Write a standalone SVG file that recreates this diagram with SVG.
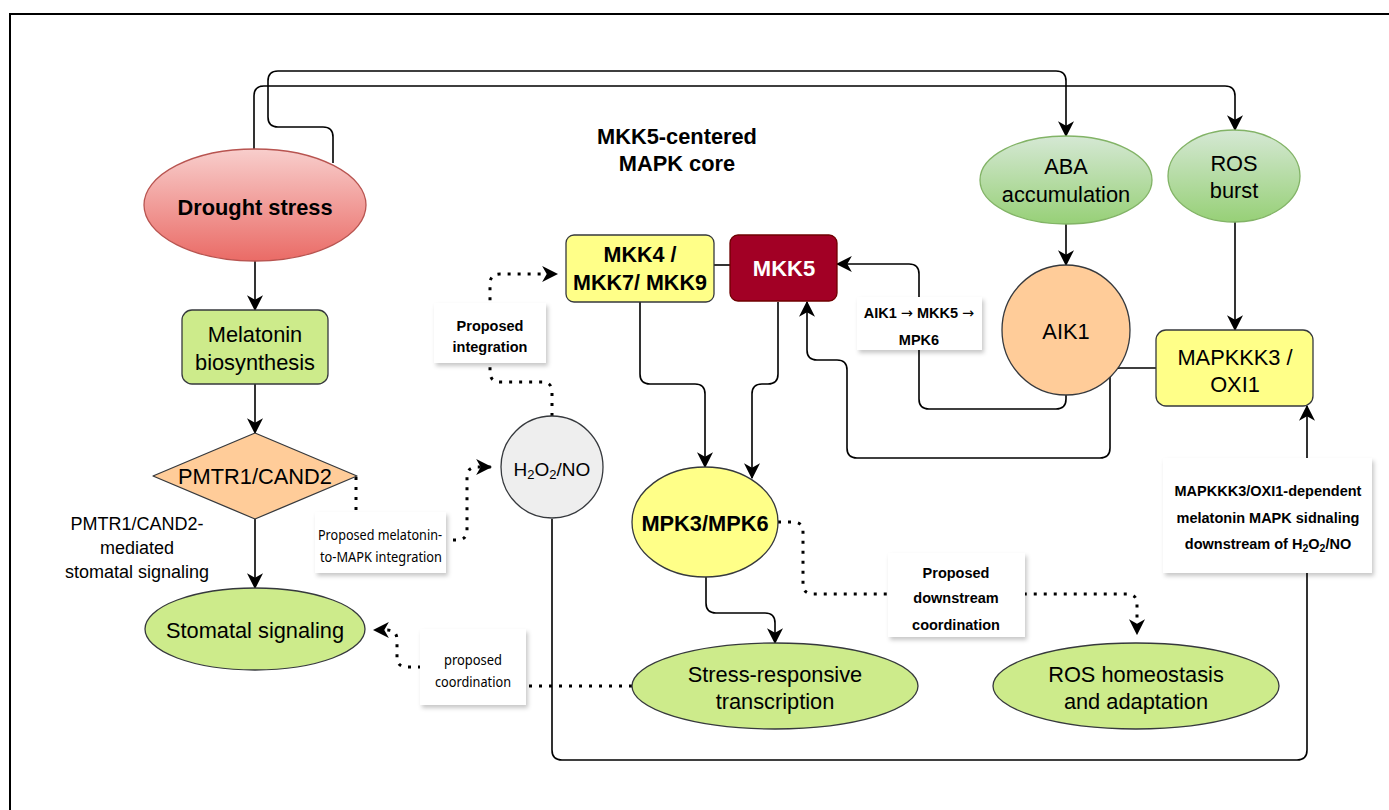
<svg xmlns="http://www.w3.org/2000/svg" width="1389" height="810" viewBox="0 0 1389 810">
<defs>
<linearGradient id="gRed" x1="0" y1="0" x2="0" y2="1"><stop offset="0" stop-color="#f8cecc"/><stop offset="1" stop-color="#ea6b66"/></linearGradient>
<linearGradient id="gGreen" x1="0" y1="0" x2="0" y2="1"><stop offset="0" stop-color="#d5e8d4"/><stop offset="1" stop-color="#97d077"/></linearGradient>
<marker id="arr" markerUnits="userSpaceOnUse" markerWidth="16" markerHeight="16" viewBox="0 0 14 14" refX="13" refY="7" orient="auto"><path d="M0,0 L14,7 L0,14 L4,7 Z" fill="#000"/></marker>
<filter id="sh" x="-10%" y="-10%" width="125%" height="130%"><feDropShadow dx="2" dy="3" stdDeviation="2" flood-color="#000" flood-opacity="0.22"/></filter>
<style>
.n{stroke:#36393d;stroke-width:1.3}
.t{font-family:"Liberation Sans",Arial,sans-serif;font-size:21.8px;fill:#000;text-anchor:middle;dominant-baseline:central}
.b{font-weight:bold}
.lb{fill:#fff;filter:url(#sh)}
.lt{font-family:"Liberation Sans",Arial,sans-serif;font-size:14.5px;font-weight:bold;fill:#000;text-anchor:middle;dominant-baseline:central}
.ar{font-family:"DejaVu Sans",sans-serif;font-weight:normal}
.st{font-family:"Noto Sans","Open Sans",sans-serif;font-size:14px;fill:#000;text-anchor:middle;dominant-baseline:central}
.c{fill:none;stroke:#000;stroke-width:1.6}
.d{fill:none;stroke:#000;stroke-width:3;stroke-dasharray:3 7}
</style>
</defs>
<rect x="10" y="14" width="1400" height="820" fill="#fff" stroke="#000" stroke-width="2"/>

<g id="connectors">
<path class="c" d="M254,149 L254,96 Q254,86 264,86 L1225,86 Q1235,86 1235,96 L1235,130" marker-end="url(#arr)"/>
<path class="c" d="M333,163 L333,137 Q333,127 323,127 L278,127 Q268,127 268,117 L268,81 Q268,71 278,71 L1056,71 Q1066,71 1066,81 L1066,136" marker-end="url(#arr)"/>
<path class="c" d="M255,261 L255,310" marker-end="url(#arr)"/>
<path class="c" d="M255,384 L255,433" marker-end="url(#arr)"/>
<path class="c" d="M255,519 L255,588" marker-end="url(#arr)"/>
<path class="c" d="M1066,223 L1066,265" marker-end="url(#arr)"/>
<path class="c" d="M1235,222 L1235,330" marker-end="url(#arr)"/>
<path class="c" d="M1066,395 L1066,399 Q1066,409 1056,409 L929,409 Q919,409 919,399 L919,274 Q919,264 909,264 L837,264" marker-end="url(#arr)"/>
<path class="c" d="M1156,368 L1120,368 Q1110,368 1110,378 L1110,448 Q1110,458 1100,458 L857,458 Q847,458 847,448 L847,370 Q847,360 837,360 L817,360 Q807,360 807,350 L807,302" marker-end="url(#arr)"/>
<path class="c" d="M552,519 L552,750 Q552,760 562,760 L1297,760 Q1307,760 1307,750 L1307,406" marker-end="url(#arr)"/>
<path class="c" d="M640,302 L640,374 Q640,384 650,384 L695,384 Q705,384 705,394 L705,467" marker-end="url(#arr)"/>
<path class="c" d="M778,302 L778,374 Q778,384 768,384 L762,384 Q752,384 752,394 L752,478" marker-end="url(#arr)"/>
<path class="c" d="M706,577 L706,603 Q706,613 716,613 L765,613 Q775,613 775,623 L775,643" marker-end="url(#arr)"/>
<path class="c" d="M714,265 L730,265"/>
<path class="d" d="M552,416 L552,392 Q552,382 542,382 L500,382 Q490,382 490,372 L490,284 Q490,274 500,274 L557,274" marker-end="url(#arr)"/>
<path class="d" d="M356,477 L356,540 L457,540 Q467,540 467,530 L467,477 Q467,467 477,467 L491,467" marker-end="url(#arr)"/>
<path class="d" d="M778,522 L793,522 Q803,522 803,532 L803,584 Q803,594 813,594 L1127,594 Q1137,594 1137,604 L1137,634" marker-end="url(#arr)"/>
<path class="d" d="M632,686 L473,686 L473,667 L407,667 Q397,667 397,657 L397,640 Q397,630 387,630 L374,630" marker-end="url(#arr)"/>
</g>

<g id="title"><text class="t b" x="677" y="136">MKK5-centered</text><text class="t b" x="677" y="163">MAPK core</text></g>

<g id="drought"><ellipse cx="255" cy="205" rx="111" ry="56" fill="url(#gRed)" stroke="#b85450" stroke-width="1.3"/><text class="t b" x="255" y="207">Drought stress</text></g>
<g id="aba"><ellipse cx="1066" cy="180" rx="86" ry="44" fill="url(#gGreen)" stroke="#82b366" stroke-width="1.3"/><text class="t" x="1066" y="166">ABA</text><text class="t" x="1066" y="194">accumulation</text></g>
<g id="ros"><ellipse cx="1234" cy="176" rx="66" ry="46" fill="url(#gGreen)" stroke="#82b366" stroke-width="1.3"/><text class="t" x="1234" y="163">ROS</text><text class="t" x="1234" y="190">burst</text></g>

<g id="melatonin"><rect class="n" x="182" y="310" width="146" height="74" rx="10" fill="#cdeb8b"/><text class="t" x="255" y="334">Melatonin</text><text class="t" x="255" y="362">biosynthesis</text></g>
<g id="pmtr"><path class="n" d="M255,433 L357,476 L255,519 L153,476 Z" stroke-linejoin="round" fill="#ffcc99"/><text class="t" x="255" y="476">PMTR1/CAND2</text></g>
<g id="pmtr-note"><text class="t" x="137" y="524" style="font-size:18px">PMTR1/CAND2-</text><text class="t" x="137" y="548" style="font-size:18px">mediated</text><text class="t" x="137" y="572" style="font-size:18px">stomatal signaling</text></g>
<g id="stomatal"><ellipse class="n" cx="255" cy="629" rx="110" ry="41" fill="#cdeb8b"/><text class="t" x="255" y="630">Stomatal signaling</text></g>

<g id="mkk4"><rect class="n" x="566" y="235" width="148" height="67" rx="8" fill="#ffff88"/><text class="t b" x="640" y="255" style="font-size:21.5px">MKK4 /</text><text class="t b" x="640" y="283" style="font-size:21.5px">MKK7/ MKK9</text></g>
<g id="mkk5"><rect x="730" y="235" width="107" height="66" rx="8" fill="#a20025" stroke="#6f0000" stroke-width="1.3"/><text class="t b" x="784" y="268" style="font-size:22px;fill:#fff">MKK5</text></g>
<g id="aik1"><ellipse class="n" cx="1066" cy="330" rx="64" ry="65" fill="#ffcc99"/><text class="t" x="1066" y="331">AIK1</text></g>
<g id="mapkkk3"><rect class="n" x="1156" y="330" width="157" height="76" rx="10" fill="#ffff88"/><text class="t" x="1235" y="357">MAPKKK3 /</text><text class="t" x="1235" y="384">OXI1</text></g>
<g id="h2o2"><circle class="n" cx="552" cy="467" r="51" fill="#eeeeee"/><text class="t" x="552" y="469" style="font-size:19px">H<tspan dy="5" font-size="13px">2</tspan><tspan dy="-5">O</tspan><tspan dy="5" font-size="13px">2</tspan><tspan dy="-5">/NO</tspan></text></g>
<g id="mpk"><ellipse class="n" cx="705" cy="522" rx="73" ry="55" fill="#ffff88"/><text class="t b" x="705" y="523">MPK3/MPK6</text></g>
<g id="stress"><ellipse class="n" cx="775" cy="686" rx="143" ry="43" fill="#cdeb8b"/><text class="t" x="775" y="674">Stress-responsive</text><text class="t" x="775" y="701">transcription</text></g>
<g id="roshomeo"><ellipse class="n" cx="1136" cy="686" rx="143" ry="43" fill="#cdeb8b"/><text class="t" x="1136" y="674">ROS homeostasis</text><text class="t" x="1136" y="701">and adaptation</text></g>

<g id="lbl-integration"><rect class="lb" x="434" y="303" width="112" height="60"/><text class="lt" x="490" y="326">Proposed</text><text class="lt" x="490" y="347">integration</text></g>
<g id="lbl-melatonin"><rect class="lb" x="315" y="512" width="131" height="61"/><text class="st" x="380" y="534" textLength="124" lengthAdjust="spacingAndGlyphs">Proposed melatonin-</text><text class="st" x="381" y="556" textLength="122" lengthAdjust="spacingAndGlyphs">to-MAPK integration</text></g>
<g id="lbl-aik1"><rect class="lb" x="857" y="297" width="125" height="53"/><text class="lt" x="919" y="313">AIK1 <tspan class="ar">→</tspan> MKK5 <tspan class="ar">→</tspan></text><text class="lt" x="919" y="340">MPK6</text></g>
<g id="lbl-downstream"><rect class="lb" x="888" y="553" width="137" height="84"/><text class="lt" x="956" y="573">Proposed</text><text class="lt" x="956" y="598">downstream</text><text class="lt" x="956" y="625">coordination</text></g>
<g id="lbl-coord"><rect class="lb" x="420" y="629" width="106" height="76"/><text class="st" x="473" y="659" textLength="58" lengthAdjust="spacingAndGlyphs">proposed</text><text class="st" x="473" y="681" textLength="76" lengthAdjust="spacingAndGlyphs">coordination</text></g>
<g id="lbl-oxi"><rect class="lb" x="1163" y="458" width="209" height="115"/><text class="lt" x="1268" y="491">MAPKKK3/OXI1-dependent</text><text class="lt" x="1268" y="518">melatonin MAPK sidnaling</text><text class="lt" x="1268" y="544">downstream of H<tspan dy="4" font-size="10.5px">2</tspan><tspan dy="-4">O</tspan><tspan dy="4" font-size="10.5px">2</tspan><tspan dy="-4">/NO</tspan></text></g>
</svg>
